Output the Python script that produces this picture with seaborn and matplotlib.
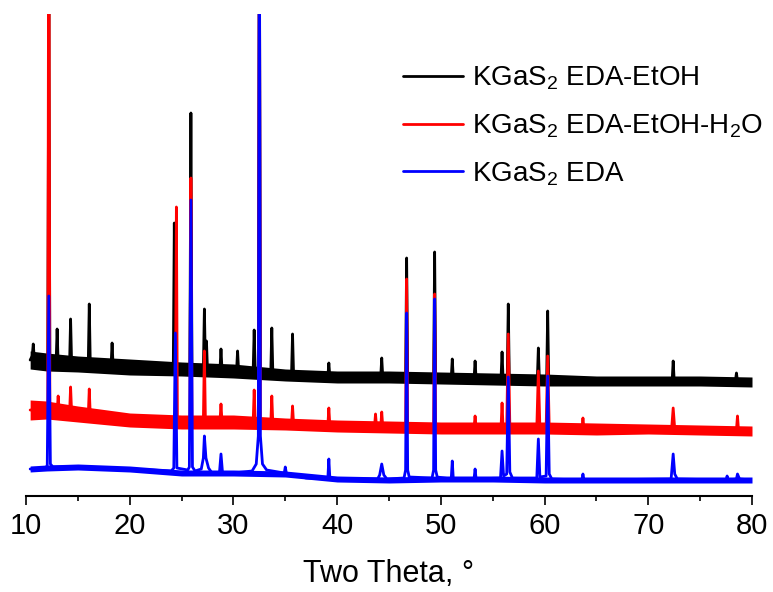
import numpy as np
import pandas as pd
import matplotlib
matplotlib.use("Agg")
import matplotlib.pyplot as plt
import seaborn as sns

# ---------------- data (intensity in arbitrary units) ----------------
series_names = [r"KGaS$_2$ EDA-EtOH", r"KGaS$_2$ EDA-EtOH-H$_2$O", r"KGaS$_2$ EDA"]
series_colors = ["#000000", "#FF0000", "#0000FF"]

# baseline knots (2theta) with noise half-amplitude
base_x = [10.4, 12, 15, 20, 25, 30, 35, 40, 45, 50, 55, 60, 65, 70, 75, 80]
black_base = [136, 134, 132, 129, 127, 125, 121, 119, 119, 118, 117, 116, 115, 115, 115, 114]
black_noise = [9, 9, 8, 8, 7, 7, 6, 6, 6, 6, 6, 6, 5, 5, 5, 5]
red_base = [86, 86, 82, 76, 74, 74, 72, 70, 69, 68, 68, 68, 67, 67, 66, 65]
red_noise = [10, 9, 8, 7, 7, 7, 6, 6, 6, 6, 6, 6, 6, 5, 5, 5]
blue_base = [27, 28, 29, 27, 23, 23, 22, 17, 16, 17, 17, 16, 16, 16, 16, 16]
blue_noise = [3, 3, 3, 3, 3, 3, 3, 3, 3, 3, 3, 3, 3, 3, 3, 3]

black_x = [10.4, 10.6, 10.7, 10.8, 11.0, 12.1, 12.2, 12.3, 12.9, 13.0, 13.1, 14.2, 14.3, 14.4,
           16.0, 16.1, 16.2, 18.2, 18.3, 18.4, 24.2, 24.3, 24.4, 25.8, 25.9, 26.0, 27.1, 27.2,
           27.3, 27.4, 27.5, 28.7, 28.8, 28.9, 30.3, 30.4, 30.5, 31.9, 32.0, 32.1, 32.4, 32.5,
           32.6, 33.6, 33.7, 33.8, 35.6, 35.7, 35.8, 39.1, 39.2, 39.3, 44.2, 44.3, 44.4, 46.6,
           46.7, 46.8, 49.3, 49.4, 49.5, 51.0, 51.1, 51.2, 53.2, 53.3, 53.4, 55.8, 55.9, 56.0,
           56.4, 56.5, 56.6, 59.3, 59.4, 59.5, 60.2, 60.3, 60.4, 72.3, 72.4, 72.5, 78.4, 78.5,
           78.6, 80.0]
black_y = [136, 140, 152, 138, 137, 134, 500, 134, 133, 167, 133, 132, 177, 132,
           131, 192, 131, 130, 153, 130, 127, 273, 127, 127, 383, 127, 127, 187,
           130, 155, 126, 126, 147, 126, 125, 145, 125, 124, 166, 124, 124, 600,
           124, 123, 168, 123, 121, 162, 121, 119, 133, 119, 119, 138, 119, 118,
           238, 118, 118, 244, 118, 118, 137, 118, 117, 135, 117, 117, 144, 117,
           117, 192, 117, 116, 148, 116, 116, 185, 116, 115, 135, 115, 115, 123,
           115, 114]

red_x = [10.4, 12.1, 12.2, 12.3, 13.0, 13.1, 13.2, 14.2, 14.3, 14.4, 16.0, 16.1, 16.2,
         24.4, 24.5, 24.6, 25.8, 25.9, 26.0, 27.1, 27.2, 27.3, 28.7, 28.8, 28.9, 31.9,
         32.0, 32.1, 32.4, 32.5, 32.6, 33.6, 33.7, 33.8, 35.6, 35.7, 35.8, 39.1, 39.2,
         39.3, 43.6, 43.7, 43.8, 44.2, 44.3, 44.4, 46.6, 46.7, 46.8, 49.3, 49.4, 49.5,
         53.2, 53.3, 53.4, 55.8, 55.9, 56.0, 56.35, 56.5, 56.65, 59.25, 59.4, 59.55,
         60.15, 60.3, 60.45, 63.6, 63.7, 63.8, 72.25, 72.4, 72.55, 78.5, 78.6, 78.7, 80.0]
red_y = [86, 86, 700, 86, 84, 100, 84, 83, 109, 83, 80, 107, 80,
         74, 289, 74, 74, 318, 74, 74, 145, 74, 74, 92, 74, 73,
         106, 73, 73, 600, 73, 72, 100, 72, 72, 90, 72, 70, 88,
         70, 69, 82, 69, 69, 84, 69, 68, 217, 68, 68, 202, 68,
         68, 80, 68, 68, 93, 68, 70, 162, 70, 68, 125, 68,
         68, 140, 68, 67, 78, 67, 67, 88, 67, 66, 80, 66, 65]

blue_x = [10.4, 11.9, 12.05, 12.2, 12.35, 12.6, 15.0, 20.0, 24.0, 24.25, 24.4, 24.55, 25.6,
          25.75, 25.9, 26.05, 26.3, 26.9, 27.1, 27.2, 27.35, 27.6, 28.0, 28.65, 28.8, 28.95,
          30.0, 31.8, 32.2, 32.4, 32.5, 32.6, 32.8, 33.2, 34.9, 35.0, 35.1, 37.0, 39.1, 39.2,
          39.3, 43.9, 44.1, 44.3, 44.5, 44.8, 46.45, 46.6, 46.7, 46.8, 46.95, 49.15, 49.3,
          49.4, 49.5, 49.65, 51.0, 51.1, 51.2, 53.2, 53.3, 53.4, 55.75, 55.9, 56.05, 56.35,
          56.5, 56.65, 56.9, 59.25, 59.4, 59.55, 60.15, 60.3, 60.45, 60.7, 63.6, 63.7, 63.8,
          72.2, 72.4, 72.55, 72.8, 77.5, 77.6, 77.7, 78.5, 78.6, 78.8, 80.0]
blue_y = [27, 27, 31, 200, 32, 29, 29, 27, 25, 28, 163, 28, 26,
          29, 296, 29, 25, 27, 38, 60, 38, 28, 22, 23, 42, 23,
          23, 25, 32, 60, 600, 60, 32, 26, 23, 29, 23, 18, 17, 37,
          17, 17, 21, 32, 21, 17, 18, 26, 183, 26, 19, 18, 26,
          197, 26, 19, 17, 35, 17, 17, 27, 17, 18, 45, 20, 22,
          119, 24, 18, 18, 57, 19, 20, 120, 22, 17, 16, 22, 16,
          17, 42, 22, 17, 16, 20, 16, 17, 22, 17, 16]

x_ticks = [10, 20, 30, 40, 50, 60, 70, 80]
x_label = "Two Theta, \u00b0"

# ---------------- styling ----------------
sns.set_theme(style="white")
plt.rcParams["font.family"] = ["Liberation Sans", "DejaVu Sans"]
plt.rcParams["mathtext.default"] = "regular"
plt.rcParams["text.color"] = "black"
plt.rcParams["axes.labelcolor"] = "black"
plt.rcParams["xtick.color"] = "black"

W, H = 773, 592
fig = plt.figure(figsize=(W / 100, H / 100), dpi=100)
ax = fig.add_axes([26 / W, (H - 496) / H, 726 / W, 482 / H])

xs = [black_x, red_x, blue_x]
ys = [black_y, red_y, blue_y]
bases = [black_base, red_base, blue_base]
noises = [black_noise, red_noise, blue_noise]

for name, color, x, y, b, n in zip(series_names, series_colors, xs, ys, bases, noises):
    b = np.array(b, dtype=float)
    n = np.array(n, dtype=float)
    ax.fill_between(base_x, b - n, b + n, color=color, linewidth=0, zorder=2)
    df = pd.DataFrame({"x": x, "y": y})
    sns.lineplot(data=df, x="x", y="y", ax=ax, color=color, linewidth=2.0,
                 sort=False, estimator=None, label=name, zorder=3)

ax.set_xlim(10, 80)
ax.set_ylim(0, 482)
ax.set_yticks([])
ax.set_xticks(x_ticks)
ax.set_xticks(np.arange(15, 80, 10), minor=True)
for s in ["left", "right", "top"]:
    ax.spines[s].set_visible(False)
ax.spines["bottom"].set_linewidth(1.5)
ax.spines["bottom"].set_color("black")
ax.tick_params(axis="x", which="major", direction="out", length=6.5, width=1.2,
               labelsize=21, pad=5, colors="black", bottom=True)
ax.tick_params(axis="x", which="minor", direction="out", length=3.6, width=1.2,
               bottom=True, colors="black")
ax.set_xlabel(x_label, fontsize=22, labelpad=14, color="black")
ax.set_ylabel("")
ax.set_facecolor("white")

leg = ax.legend(loc="upper left", bbox_to_anchor=((403 - 26) / 726, (496 - 65) / 482),
                frameon=False, fontsize=20, handlelength=2.15, handletextpad=0.35,
                labelspacing=0.72, borderpad=0, borderaxespad=0)
for line in leg.get_lines():
    line.set_linewidth(2.0)
for t in leg.get_texts():
    t.set_color("black")

fig.savefig("out.png", dpi=100, facecolor="white")
